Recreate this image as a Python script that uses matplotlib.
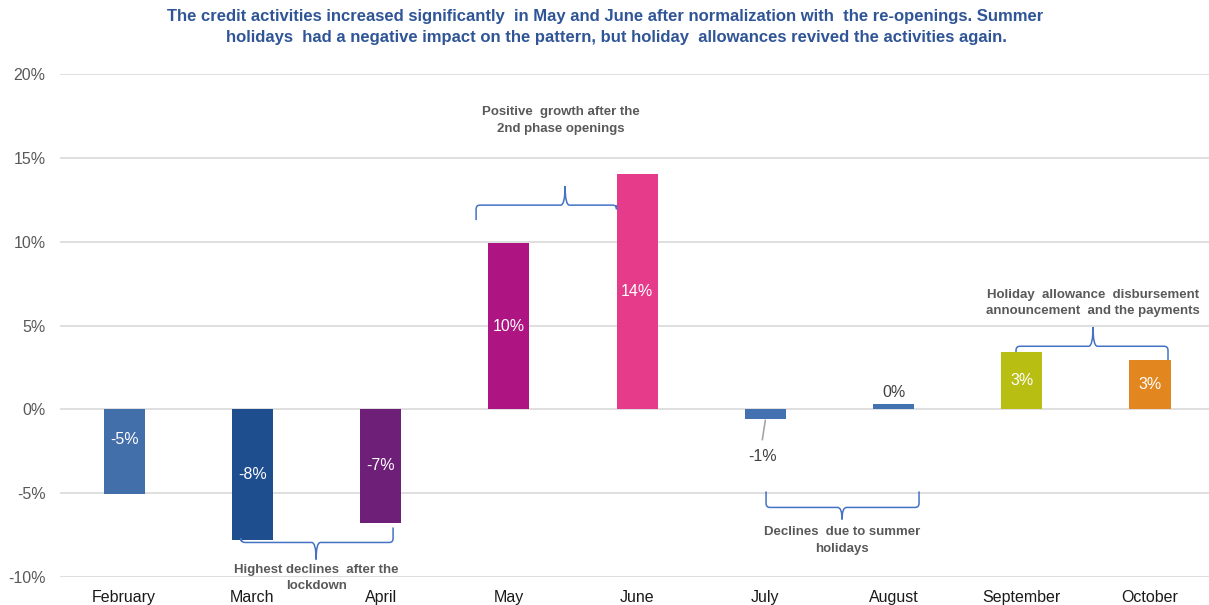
import matplotlib
matplotlib.use("Agg")
import matplotlib.pyplot as plt
from matplotlib.path import Path
from matplotlib.patches import PathPatch

plt.rcParams['font.family'] = ['Liberation Sans', 'DejaVu Sans']

months = ["February", "March", "April", "May", "June", "July", "August", "September", "October"]
values = [-5.05, -7.82, -6.75, 9.9, 14.05, -0.6, 0.3, 3.42, 2.93]
labels = ["-5%", "-8%", "-7%", "10%", "14%", "-1%", "0%", "3%", "3%"]
colors = ["#426EAA", "#1F4E8F", "#6E1F78", "#AE1482", "#E63B8A",
          "#4472B0", "#4472B0", "#B9BE13", "#E2861F"]
title_lines = [
    "The credit activities increased significantly  in May and June after normalization with  the re-openings. Summer",
    "holidays  had a negative impact on the pattern, but holiday  allowances revived the activities again.",
]
yticks = [-10, -5, 0, 5, 10, 15, 20]
ytick_labels = ["-10%", "-5%", "0%", "5%", "10%", "15%", "20%"]

notes = [
    "Highest declines  after the\nlockdown",
    "Positive  growth after the\n2nd phase openings",
    "Declines  due to summer\nholidays",
    "Holiday  allowance  disbursement\nannouncement  and the payments",
]

W, H = 1209, 605
fig = plt.figure(figsize=(W / 100, H / 100), dpi=100)
ax = fig.add_axes([60 / W, 1 - 577 / H, (W - 60) / W, (577 - 74) / H])

x = list(range(len(months)))
ax.bar(x, values, width=0.32, color=colors, zorder=3)

ax.set_ylim(-10, 20)
ax.set_xlim(-0.5, (W - 124) / 128.25)
ax.set_yticks(yticks)
ax.set_yticklabels(ytick_labels, fontsize=11.5, color="#595959")
ax.set_xticks(x)
ax.set_xticklabels(months, fontsize=11.5, color="#1a1a1a")
ax.tick_params(axis="both", length=0)
ax.tick_params(axis="y", pad=10.5)
ax.tick_params(axis="x", pad=9.5)
ax.grid(axis="y", color="#D9D9D9", linewidth=1.2, zorder=0)
for s in ax.spines.values():
    s.set_visible(False)

# value labels
label_y_override = {0: -1.8}
for i, (v, lab) in enumerate(zip(values, labels)):
    if i == 5:
        ax.text(i - 0.025, v - 2.2, lab, ha="center", va="center", fontsize=11.5, color="#404040")
        ax.plot([i, i - 0.023], [v - 0.06, v - 1.2], color="#A6A6A6", lw=1.2, zorder=4)
    elif i == 6:
        ax.text(i, v + 0.7, lab, ha="center", va="center", fontsize=11.5, color="#404040")
    else:
        yy = label_y_override.get(i, v / 2)
        ax.text(i, yy, lab, ha="center", va="center", fontsize=11.5, color="white", zorder=4)


def brace(x1, x2, y, tip, xm, e1, e2):
    dx = 0.035
    sgn1 = 1 if e1 > y else -1
    sgn2 = 1 if e2 > y else -1
    r = 0.25
    verts = [
        (x1, e1), (x1, y + sgn1 * r), (x1, y), (x1 + 0.03, y),
        (xm - dx, y), (xm, y), (xm, tip),
        (xm, y), (xm + dx, y),
        (x2 - 0.03, y), (x2, y), (x2, y + sgn2 * r), (x2, e2),
    ]
    codes = [Path.MOVETO, Path.LINETO, Path.CURVE3, Path.CURVE3,
             Path.LINETO, Path.CURVE3, Path.CURVE3,
             Path.CURVE3, Path.CURVE3,
             Path.LINETO, Path.CURVE3, Path.CURVE3, Path.LINETO]
    p = PathPatch(Path(verts, codes), fill=False, edgecolor="#4472C4", lw=1.1,
                  zorder=5, clip_on=False)
    ax.add_patch(p)


def px_x(px):
    return (px - 124) / 128.25


def px_y(py):
    return (410 - py) / 16.75


brace(px_x(241), px_x(393), px_y(543), px_y(560), px_x(316), values[1] - 0.05, px_y(528))
brace(px_x(476), 4 - 0.16, px_y(206), px_y(187), px_x(565), px_y(221), px_y(206))
brace(px_x(766), px_x(919), px_y(508), px_y(520), px_x(842), px_y(492), px_y(492))
brace(px_x(1016), px_x(1168), px_y(347), px_y(328), px_x(1093), values[7], values[8])

note_pos = [(px_x(316), px_y(578.5)), (px_x(561), px_y(121.5)),
            (px_x(842), px_y(541)), (px_x(1093), px_y(304))]
for (tx, ty), t in zip(note_pos, notes):
    ax.text(tx, ty, t, ha="center", va="center", fontsize=9.5, fontweight="bold",
            color="#595959", linespacing=1.5, zorder=6, clip_on=False)

title_pos = [(605, 17), (616, 37.5)]
for (tx, ty), t in zip(title_pos, title_lines):
    fig.text(tx / W, 1 - ty / H, t, ha="center", va="center", fontsize=12,
             fontweight="bold", color="#2F5597")

fig.savefig("out.png", dpi=100, facecolor="white")
